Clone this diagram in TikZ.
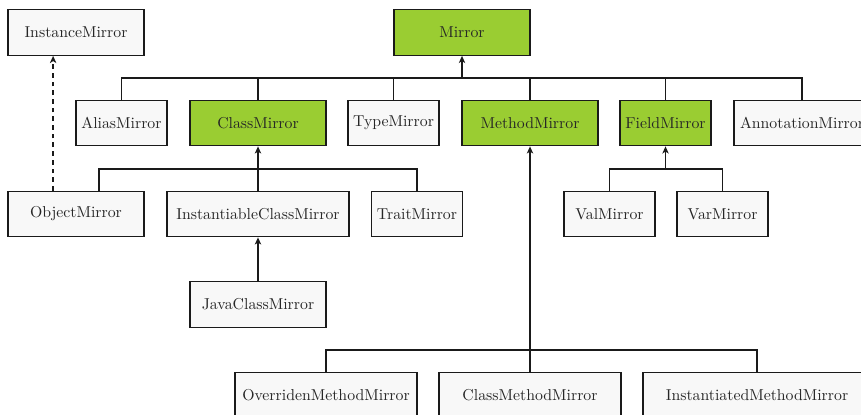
\documentclass[tikz,border=0pt]{standalone}
\usetikzlibrary{arrows.meta,calc}
\definecolor{boxgreen}{HTML}{9ACD32}
\definecolor{boxlight}{HTML}{F8F8F8}
\definecolor{edge}{HTML}{1A1A1A}
\begin{document}
\begin{tikzpicture}[x=0.633pt,y=-0.633pt,
  cls/.style={draw=edge,line width=0.8pt,fill=boxlight,minimum height=28.8pt,inner sep=0pt,font=\normalsize,text=black!85},
  hl/.style={fill=boxgreen},
  wA/.style={minimum width=86.1pt},
  wB/.style={minimum width=57.6pt},
  wC/.style={minimum width=115.2pt},
  wD/.style={minimum width=144.3pt},
  conn/.style={draw=edge,line width=0.8pt},
  tip/.style={-{Stealth[length=4.5pt,width=4pt,inset=1.2pt]}}]
\useasboundingbox (0,0) rectangle (861,414);
\node[cls,wA] (im) at (76,32.5) {InstanceMirror};
\node[cls,wA,hl] (mirror) at (462,32.5) {Mirror};
\node[cls,wB] (alias) at (121.5,123) {AliasMirror};
\node[cls,wA,hl] (class) at (258,123) {ClassMirror};
\node[cls,wB] (type) at (393.5,123) {TypeMirror};
\node[cls,wA,hl] (method) at (530,123) {MethodMirror};
\node[cls,wB,hl] (field) at (665.5,123) {FieldMirror};
\node[cls,wA] (annot) at (802,123) {AnnotationMirror};
\node[cls,wA] (obj) at (76,214) {ObjectMirror};
\node[cls,wC] (inst) at (258,214) {InstantiableClassMirror};
\node[cls,wB] (trait) at (417,214) {TraitMirror};
\node[cls,wB] (val) at (609.5,214) {ValMirror};
\node[cls,wB] (var) at (722.5,214) {VarMirror};
\node[cls,wA] (java) at (258,304.5) {JavaClassMirror};
\node[cls,wC] (over) at (326,395) {OverridenMethodMirror};
\node[cls,wC] (cmm) at (530,395) {ClassMethodMirror};
\node[cls,wD] (instm) at (757,395) {InstantiatedMethodMirror};
\coordinate (b1) at (0,78);
\coordinate (b2) at (0,169);
\coordinate (b3) at (0,350);
\coordinate (objR) at ($(obj.north west)!0.6667!(obj.north east)$);
\coordinate (objL) at ($(obj.north west)!0.3333!(obj.north east)$);
% Mirror subtree
\draw[conn] (alias.north) -- (alias.north |- b1) -- (annot.north |- b1) -- (annot.north);
\draw[conn] (class.north) -- (class.north |- b1);
\draw[conn] (type.north) -- (type.north |- b1);
\draw[conn] (method.north) -- (method.north |- b1);
\draw[conn] (field.north) -- (field.north |- b1);
\draw[conn,tip] (mirror.south |- b1) -- (mirror.south);
% ClassMirror subtree
\draw[conn] (objR) -- (objR |- b2) -- (trait.north |- b2) -- (trait.north);
\draw[conn,tip] (inst.north) -- (class.south);
% FieldMirror subtree
\draw[conn] (val.north) -- (val.north |- b2) -- (var.north |- b2) -- (var.north);
\draw[conn,tip] (field.south |- b2) -- (field.south);
% Instantiable
\draw[conn,tip] (java.north) -- (inst.south);
% MethodMirror subtree
\draw[conn] (over.north) -- (over.north |- b3) -- (instm.north |- b3) -- (instm.north);
\draw[conn,tip] (cmm.north) -- (method.south);
% dashed
\draw[conn,tip,dashed,dash pattern=on 3pt off 2.5pt] (objL) -- (objL |- im.south);
\end{tikzpicture}
\end{document}
